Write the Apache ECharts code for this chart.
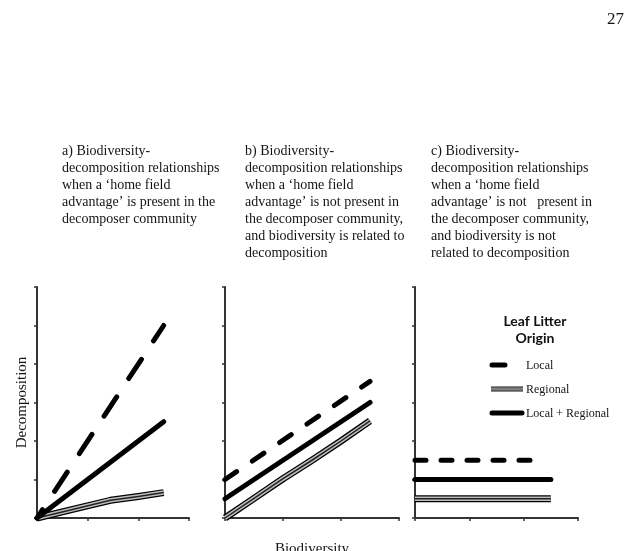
<!DOCTYPE html>
<html>
<head>
    <title>Biodiversity-decomposition relationships</title>
    <script src="https://cdn.jsdelivr.net/npm/echarts@6.0.0/dist/echarts.min.js"></script>
    <style>
        body { margin: 0; background: #fff; }
        #chart { width: 643px; height: 551px; }
    </style>
</head>
<body>
    <div id="chart"></div>

    <script>
        // headings above each panel
        const panelTitles = [
            'a) Biodiversity-\ndecomposition relationships\nwhen a \u2018home field\nadvantage\u2019 is present in the\ndecomposer community',
            'b) Biodiversity-\ndecomposition relationships\nwhen a \u2018home field\nadvantage\u2019 is not present in\nthe decomposer community,\nand biodiversity is related to\ndecomposition',
            'c) Biodiversity-\ndecomposition relationships\nwhen a \u2018home field\nadvantage\u2019 is not   present in\nthe decomposer community,\nand biodiversity is not\nrelated to decomposition'
        ];
        const legendTitle = 'Leaf Litter\nOrigin';
        const legendNames = ['Local', 'Regional', 'Local + Regional'];
        const pageNumber = '27';

        // [biodiversity, decomposition] in tick units (x 0-3, y 0-6)
        const aLocal = [[0, 0], [2.5, 5.0]];
        const aRegional = [[0, 0], [0.6, 0.19], [1.45, 0.46], [2.0, 0.56], [2.5, 0.66]];
        const aBoth = [[0, 0], [2.5, 2.5]];

        const bLocal = [[0, 1.0], [2.5, 3.55]];
        const bRegional = [[0, 0], [0.45, 0.46], [1.0, 1.02], [1.5, 1.5], [2.0, 2.0], [2.5, 2.52]];
        const bBoth = [[0, 0.5], [2.5, 3.0]];

        const cLocal = [[0, 1.5], [2.3, 1.5]];
        const cRegional = [[0, 0.5], [2.5, 0.5]];
        const cBoth = [[0, 1.0], [2.5, 1.0]];

        const serif = 'Liberation Serif';
        const ink = '#141414';

        const chart = echarts.init(document.getElementById('chart'));

        function panelSeries(idx, local, regional, both, dash, dashOffset) {
            const base = {
                type: 'line', xAxisIndex: idx, yAxisIndex: idx,
                symbol: 'none', silent: true, clip: false, animation: false
            };
            return [
                { ...base, name: 'Regional', data: regional, lineStyle: { color: '#000', width: 7, join: 'round' } },
                { ...base, name: 'Regional', data: regional, lineStyle: { color: '#bdbdbd', width: 4.5, join: 'round' } },
                { ...base, name: 'Regional', data: regional, lineStyle: { color: '#222', width: 1.5, join: 'round' } },
                { ...base, name: 'Local + Regional', data: both, lineStyle: { color: '#000', width: 5, cap: 'round' } },
                { ...base, name: 'Local', data: local,
                  lineStyle: { color: '#000', width: 5, cap: 'round', type: dash, dashOffset: dashOffset } }
            ];
        }

        const grids = [
            { left: 37, top: 287, width: 152, height: 231 },
            { left: 225, top: 287, width: 174, height: 231 },
            { left: 415, top: 287, width: 163, height: 231 }
        ];

        const axisLine = { lineStyle: { color: '#333', width: 2 } };
        const axisTick = { length: 3, lineStyle: { color: '#333', width: 1.5 } };
        const nameStyle = { fontFamily: serif, fontSize: 15, color: ink };

        const xAxes = grids.map((g, i) => ({
            type: 'value', gridIndex: i, min: 0, max: 3, interval: 1,
            axisLine: axisLine, axisTick: axisTick,
            axisLabel: { show: false }, splitLine: { show: false },
            name: i === 1 ? 'Biodiversity' : '', nameLocation: 'middle', nameGap: 20,
            nameTextStyle: nameStyle
        }));
        const yAxes = grids.map((g, i) => ({
            type: 'value', gridIndex: i, min: 0, max: 6, interval: 1,
            axisLine: axisLine, axisTick: axisTick,
            axisLabel: { show: false }, splitLine: { show: false },
            name: i === 0 ? 'Decomposition' : '', nameLocation: 'middle', nameGap: 3, nameRotate: 90,
            nameTextStyle: nameStyle
        }));

        const titleLefts = [62, 245, 431];
        const titles = panelTitles.map((t, i) => ({
            text: t, left: titleLefts[i], top: 143, padding: 0,
            textStyle: { fontFamily: serif, fontSize: 14, fontWeight: 'normal', lineHeight: 17, color: ink }
        }));
        titles.push({
            text: pageNumber, right: 19, top: 7, padding: 0,
            textStyle: { fontFamily: serif, fontSize: 17, fontWeight: 'normal', color: ink }
        });

        // legend drawn by hand so the triple "Regional" stroke can be shown
        const legendY = [365, 389, 413];
        const legendKeys = [
            [{ x1: 492, x2: 505, w: 5, c: '#000', cap: 'round' }],
            [{ x1: 491, x2: 523, w: 5, c: '#111', cap: 'butt' },
             { x1: 491, x2: 523, w: 3, c: '#a8a8a8', cap: 'butt' },
             { x1: 491, x2: 523, w: 1, c: '#555', cap: 'butt' }],
            [{ x1: 492, x2: 522, w: 5, c: '#000', cap: 'round' }]
        ];
        const legendGraphics = [{
            type: 'text', x: 535, y: 313, silent: true,
            style: {
                text: legendTitle, align: 'center', verticalAlign: 'top',
                font: 'bold 14px Lato', lineHeight: 17, fill: '#111'
            }
        }];
        legendNames.forEach((name, i) => {
            legendKeys[i].forEach(k => {
                legendGraphics.push({
                    type: 'line', silent: true,
                    shape: { x1: k.x1, y1: legendY[i], x2: k.x2, y2: legendY[i] },
                    style: { stroke: k.c, lineWidth: k.w, lineCap: k.cap }
                });
            });
            legendGraphics.push({
                type: 'text', x: 526, y: legendY[i] + 1, silent: true,
                style: { text: name, font: '12px "Liberation Serif"', fill: ink, verticalAlign: 'middle' }
            });
        });

        chart.setOption({
            backgroundColor: '#fff',
            animation: false,
            title: titles,
            grid: grids.map(g => ({ ...g, outerBoundsMode: 'none' })),
            xAxis: xAxes,
            yAxis: yAxes,
            graphic: legendGraphics,
            series: [
                ...panelSeries(0, aLocal, aRegional, aBoth, [23, 22], 13),
                ...panelSeries(1, bLocal, bRegional, bBoth, [14, 19], 0),
                ...panelSeries(2, cLocal, cRegional, cBoth, [11, 15], 0)
            ]
        });
    </script>
</body>
</html>
